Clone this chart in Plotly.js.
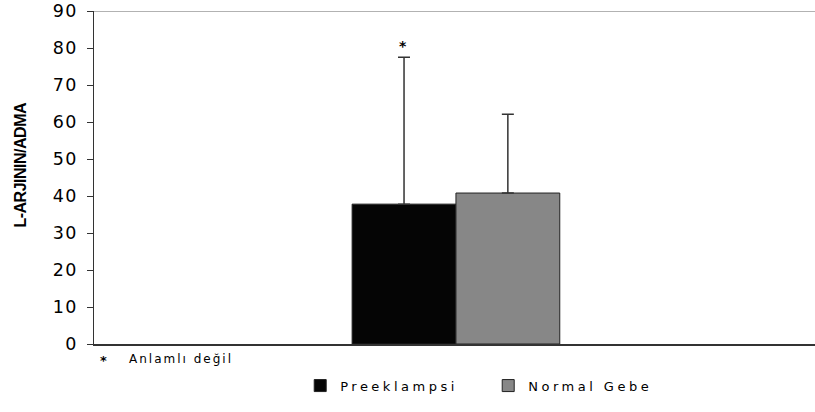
<!DOCTYPE html>
<html><head><meta charset="utf-8">
<script src="https://cdn.plot.ly/plotly-3.0.1.min.js"></script>
<style>html,body{margin:0;padding:0;background:#fff}#chart{width:815px;height:412px}
.legendtext{letter-spacing:3.5px}
.ytick text{letter-spacing:1.5px}
.annotation-text{letter-spacing:2px}
</style>
</head><body><div id="chart"></div>
<script>
const categories = ['L-Arjinin/ADMA'];
const seriesNames = ['Preeklampsi', 'Normal Gebe'];
const preeklampsi = [37.8];
const preeklampsiSD = [39.7];
const normalGebe = [40.8];
const normalGebeSD = [21.3];
const yTicks = [0,10,20,30,40,50,60,70,80,90];
const yTitle = 'L-ARJININ/ADMA';
const footnote = 'Anlamlı değil';

const font = {family: 'DejaVu Sans, Liberation Sans, sans-serif', color: '#000'};
const traces = [
  {type:'bar', name: seriesNames[0], x: categories, y: preeklampsi,
   marker:{color:'#050505', line:{color:'#222', width:1}},
   error_y:{type:'data', array: preeklampsiSD, arrayminus:[0], symmetric:false, color:'#333', thickness:1.5, width:6}},
  {type:'bar', name: seriesNames[1], x: categories, y: normalGebe,
   marker:{color:'#878787', line:{color:'#222', width:1}},
   error_y:{type:'data', array: normalGebeSD, arrayminus:[0], symmetric:false, color:'#333', thickness:1.5, width:6}}
];
const layout = {
  width:815, height:412,
  margin:{l:94, r:0, t:11, b:68},
  paper_bgcolor:'#fff', plot_bgcolor:'#fff',
  barmode:'group', bargap:0.712, bargroupgap:0,
  font: Object.assign({size:13}, font),
  showlegend:true,
  legend:{orientation:'h', x:0.286, xanchor:'left', y:-0.125, yanchor:'middle',
          font:Object.assign({size:13}, font), entrywidth:143, entrywidthmode:'pixels', traceorder:'normal'},
  xaxis:{range:[-0.502,0.498], showticklabels:false, ticks:'', showline:true, linecolor:'#333', linewidth:1.5,
         showgrid:false, zeroline:false},
  yaxis:{range:[0,90], tickvals:yTicks, ticktext:yTicks.map(String), ticks:'outside', ticklen:6,
         ticklabelstandoff:5,
         tickcolor:'#333', showline:true, linecolor:'#333', linewidth:1.5, showgrid:false, zeroline:false,
         tickfont:Object.assign({size:17.5}, font)},
  shapes:[{type:'line', xref:'paper', yref:'y', x0:0, x1:1, y0:90, y1:90, line:{color:'#999', width:1.5}}],
  annotations:[
    {xref:'paper', yref:'paper', x:-0.1026, y:0.5375, xanchor:'center', yanchor:'middle', textangle:-90,
     text:'<b>' + yTitle + '</b>', showarrow:false,
     font:{family:'Liberation Sans, Arial, sans-serif', size:16, color:'#000'}},
    {xref:'x', yref:'y', x: categories[0], xshift:-52, y:80.5, text:'<b>*</b>', showarrow:false,
     font:Object.assign({size:14}, font)},
    {xref:'paper', yref:'paper', x:0.015, y:-0.05, xanchor:'center', yanchor:'middle', text:'<b>*</b>',
     showarrow:false, font:Object.assign({size:13}, font)},
    {xref:'paper', yref:'paper', x:0.0458, y:-0.045, xanchor:'left', yanchor:'middle', text: footnote,
     showarrow:false, font:Object.assign({size:12}, font)}
  ]
};
Plotly.newPlot('chart', traces, layout, {displayModeBar:false, staticPlot:true}).then(function(){
  const t = document.querySelectorAll('.annotation-text')[0];
  if (t) t.style.letterSpacing = '-0.5px';
});
</script></body></html>
